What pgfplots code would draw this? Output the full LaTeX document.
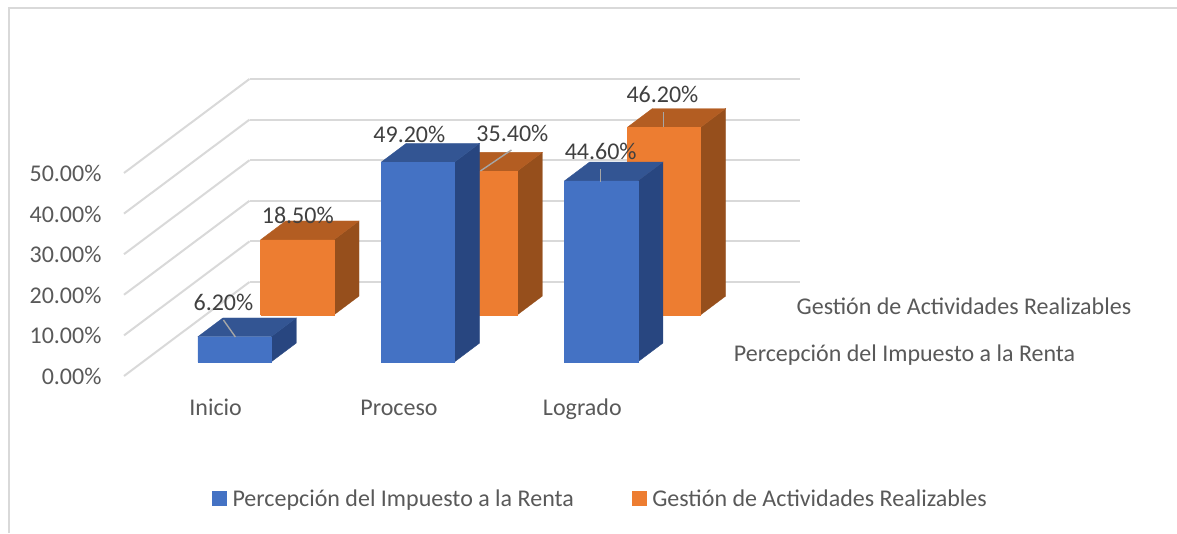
\documentclass[border=0pt]{standalone}
\usepackage{fontspec}
\setmainfont{Carlito}
\usepackage{pgfplots}
\pgfplotsset{compat=1.18}
\definecolor{bF}{HTML}{4472C4}\definecolor{bT}{HTML}{335593}\definecolor{bS}{HTML}{284680}
\definecolor{oF}{HTML}{ED7D31}\definecolor{oT}{HTML}{B35D22}\definecolor{oS}{HTML}{964F1C}
\definecolor{txt}{HTML}{595959}\definecolor{gridc}{HTML}{D9D9D9}
% x0 x1 y0 y1 value
\newcommand\BarB[5]{%
\addplot3[forget plot,draw=bS,line width=0.3pt,fill=bS] coordinates {(#2,#3,0) (#2,#4,0) (#2,#4,#5) (#2,#3,#5) (#2,#3,0)};
\addplot3[forget plot,draw=bT,line width=0.3pt,fill=bT] coordinates {(#1,#3,#5) (#2,#3,#5) (#2,#4,#5) (#1,#4,#5) (#1,#3,#5)};
\addplot3[forget plot,draw=bF,line width=0.3pt,fill=bF] coordinates {(#1,#3,0) (#2,#3,0) (#2,#3,#5) (#1,#3,#5) (#1,#3,0)};
}
\newcommand\BarO[5]{%
\addplot3[forget plot,draw=oS,line width=0.3pt,fill=oS] coordinates {(#2,#3,0) (#2,#4,0) (#2,#4,#5) (#2,#3,#5) (#2,#3,0)};
\addplot3[forget plot,draw=oT,line width=0.3pt,fill=oT] coordinates {(#1,#3,#5) (#2,#3,#5) (#2,#4,#5) (#1,#4,#5) (#1,#3,#5)};
\addplot3[forget plot,draw=oF,line width=0.3pt,fill=oF] coordinates {(#1,#3,0) (#2,#3,0) (#2,#3,#5) (#1,#3,#5) (#1,#3,0)};
}
\begin{document}
\begin{tikzpicture}[x=1pt,y=1pt]
\path[use as bounding box] (0,0) rectangle (1177,533);
\draw[gridc,line width=2pt] (8.5,0) -- (8.5,524.5) -- (1177,524.5);
\begin{axis}[
  at={(124pt,157pt)},anchor=south west,
  x={(183.33pt,0pt)},y={(62.75pt,47pt)},z={(0pt,4.06pt)},
  xmin=0,xmax=3,ymin=0,ymax=2,zmin=0,zmax=50,
  clip=false,
  axis line style={draw=none},
  major tick length=0pt,
  xtick={0.5,1.5,2.5},xticklabels={Inicio,Proceso,Logrado},
  ytick={0.5,1.5},yticklabels={Percepción del Impuesto a la Renta,Gestión de Actividades Realizables},
  ztick={0,10,20,30,40,50},
  zticklabels={0.00\%,10.00\%,20.00\%,30.00\%,40.00\%,50.00\%},
  zmajorgrids=true,
  major grid style={gridc,line width=2pt},
  tick label style={font=\fontsize{24}{26}\selectfont,text=txt,text height=16pt,text depth=5pt},
  xticklabel style={anchor=center,yshift=-34pt},
  yticklabel style={anchor=west,xshift=25pt,yshift=-3.5pt},
  zticklabel style={anchor=east,xshift=-19pt,yshift=-3pt},
  legend columns=2,
  legend style={at={(0.7054,-0.413)},anchor=center,draw=none,fill=none,inner sep=0pt,
    font=\fontsize{24}{26}\selectfont,text=txt,
    /tikz/every odd column/.append style={column sep=4pt},
    /tikz/every even column/.append style={column sep=56pt}},
]
\BarO{0.3}{0.7}{1.3}{1.7}{18.5}
\BarO{1.3}{1.7}{1.3}{1.7}{35.4}
\BarO{2.3}{2.7}{1.3}{1.7}{46.2}
\BarB{0.3}{0.7}{0.3}{0.7}{6.2}
\BarB{1.3}{1.7}{0.3}{0.7}{49.2}
\BarB{2.3}{2.7}{0.3}{0.7}{44.6}
\addlegendimage{legend image code/.code={\fill[bF] (0pt,-7pt) rectangle (14pt,7pt);}}
\addlegendentry{Percepción del Impuesto a la Renta}
\addlegendimage{legend image code/.code={\fill[oF] (0pt,-7pt) rectangle (14pt,7pt);}}
\addlegendentry{Gestión de Actividades Realizables}
\tikzset{lead/.style={draw=black!35,line width=1.4pt},dl/.style={font=\fontsize{24}{26}\selectfont,text=black!75,inner sep=0pt}}
\draw[lead] ([shift={(-23.6pt,7.3pt)}]axis cs:0.5,0.5,6.2) -- ([shift={(-11.6pt,-9.7pt)}]axis cs:0.5,0.5,6.2);
\draw[lead] ([shift={(18.3pt,11.8pt)}]axis cs:1.5,1.5,35.4) -- ([shift={(-12.7pt,-9.2pt)}]axis cs:1.5,1.5,35.4);
\draw[lead] ([shift={(-13.3pt,2.4pt)}]axis cs:2.5,0.5,44.6) -- ([shift={(-13.3pt,-10.6pt)}]axis cs:2.5,0.5,44.6);
\draw[lead] ([shift={(-13pt,5.9pt)}]axis cs:2.5,1.5,46.2) -- ([shift={(-13pt,-9.1pt)}]axis cs:2.5,1.5,46.2);
\node[dl] at ([shift={(-23.6pt,25.3pt)}]axis cs:0.5,0.5,6.2) {6.20\%};
\node[dl] at ([shift={(-21pt,18.7pt)}]axis cs:1.5,0.5,49.2) {49.20\%};
\node[dl] at ([shift={(-13pt,20.4pt)}]axis cs:2.5,0.5,44.6) {44.60\%};
\node[dl] at ([shift={(-12pt,15.4pt)}]axis cs:0.5,1.5,18.5) {18.50\%};
\node[dl] at ([shift={(19.3pt,28.8pt)}]axis cs:1.5,1.5,35.4) {35.40\%};
\node[dl] at ([shift={(-14pt,23.9pt)}]axis cs:2.5,1.5,46.2) {46.20\%};
\end{axis}
\end{tikzpicture}
\end{document}
